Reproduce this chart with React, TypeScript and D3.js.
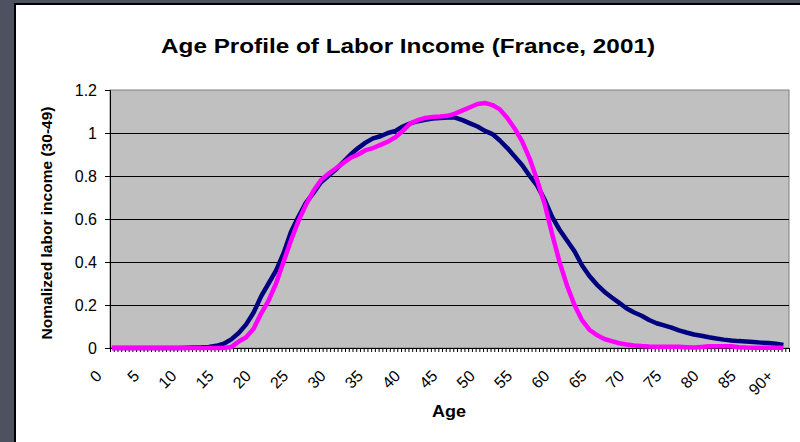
import * as d3 from "d3";
import { useEffect, useRef } from "react";

// ages 0..90 (90 = "90+")
const navyValues = [
  0, 0, 0, 0, 0, 0, 0, 0, 0, 0,
  0.001, 0.002, 0.003, 0.005, 0.01, 0.02, 0.04, 0.07, 0.11, 0.165,
  0.24, 0.3, 0.36, 0.44, 0.54, 0.61, 0.675, 0.72, 0.77, 0.8,
  0.83, 0.865, 0.9, 0.93, 0.955, 0.975, 0.985, 1.0, 1.01, 1.03,
  1.045, 1.055, 1.062, 1.067, 1.07, 1.072, 1.072, 1.06, 1.045, 1.03,
  1.01, 0.995, 0.965, 0.93, 0.89, 0.85, 0.8, 0.755, 0.69, 0.61,
  0.55, 0.5, 0.45, 0.385, 0.335, 0.295, 0.262, 0.235, 0.21, 0.184,
  0.165, 0.15, 0.13, 0.115, 0.105, 0.095, 0.082, 0.072, 0.063, 0.057,
  0.05, 0.044, 0.039, 0.035, 0.032, 0.03, 0.028, 0.025, 0.023, 0.02,
  0.014,
];

const pinkValues = [
  0, 0, 0, 0, 0, 0, 0, 0, 0, 0,
  0, 0, 0, 0, 0, 0, 0.005, 0.03, 0.05, 0.09,
  0.16, 0.22, 0.3, 0.4, 0.5, 0.59, 0.665, 0.73, 0.78, 0.81,
  0.835, 0.86, 0.885, 0.9, 0.92, 0.93, 0.945, 0.96, 0.98, 1.01,
  1.045, 1.06, 1.07, 1.075, 1.077, 1.08, 1.09, 1.105, 1.12, 1.135,
  1.14, 1.13, 1.11, 1.07, 1.02, 0.96, 0.88, 0.78, 0.67, 0.53,
  0.4, 0.29, 0.2, 0.13, 0.085, 0.06, 0.042, 0.032, 0.022, 0.016,
  0.012, 0.009, 0.007, 0.006, 0.006, 0.006, 0.006, 0.004, 0.002, 0.005,
  0.008, 0.008, 0.008, 0.008, 0.004, 0.002, 0.001, 0.001, 0.001, 0.001,
  0.001,
];

const xTickLabels = ["0", "5", "10", "15", "20", "25", "30", "35", "40", "45",
  "50", "55", "60", "65", "70", "75", "80", "85", "90+"];
const yTicks = [0, 0.2, 0.4, 0.6, 0.8, 1, 1.2];

const FONT = "'Liberation Sans', Arial, sans-serif";

function App() {
  const ref = useRef<SVGSVGElement>(null);

  useEffect(() => {
    const width = 800;
    const height = 442;
    const plot = { left: 110, right: 789, top: 90, bottom: 348 };

    const svg = d3.select(ref.current);
    svg.selectAll("*").remove();
    svg.attr("width", width).attr("height", height);

    // frame
    svg.append("rect").attr("width", width).attr("height", height).attr("fill", "#4e5160");
    svg.append("rect").attr("x", 15).attr("y", 4).attr("width", width).attr("height", height)
      .attr("fill", "#ffffff").attr("stroke", "#000").attr("stroke-width", 2);

    const ages = navyValues.map((_, i) => i);
    const xScale = d3.scaleLinear().domain([-0.25, 90.75]).range([plot.left, plot.right]);
    const yScale = d3.scaleLinear().domain([0, 1.2]).range([plot.bottom, plot.top]);

    // plot area
    svg.append("rect")
      .attr("x", plot.left).attr("y", plot.top)
      .attr("width", plot.right - plot.left).attr("height", plot.bottom - plot.top)
      .attr("fill", "#c0c0c0").attr("stroke", "#808080").attr("stroke-width", 1);

    // gridlines
    svg.append("g")
      .selectAll("line")
      .data(yTicks.filter((t) => t > 0 && t < 1.2))
      .enter()
      .append("line")
      .attr("x1", plot.left).attr("x2", plot.right)
      .attr("y1", (d) => Math.round(yScale(d)) + 0.5).attr("y2", (d) => Math.round(yScale(d)) + 0.5)
      .attr("stroke", "#000").attr("stroke-width", 1);

    const yAxis = d3.axisLeft(yScale).tickValues(yTicks)
      .tickSize(5).tickPadding(8)
      .tickFormat((d) => String(d));
    const yAxisG = svg.append("g").attr("transform", `translate(${plot.left},0)`);
    yAxisG.call(yAxis);
    yAxisG.select(".domain").attr("stroke", "#000");
    yAxisG.selectAll(".tick text")
      .attr("font-family", FONT).attr("font-size", 16).attr("fill", "#000");

    // x axis: tick marks every half category
    const xTickVals = d3.range(0, 183).map((i) => -0.25 + i * 0.5);
    const xAxis = d3.axisBottom(xScale).tickValues(xTickVals).tickSize(4).tickFormat(() => "");
    const xAxisG = svg.append("g").attr("transform", `translate(0,${plot.bottom})`);
    xAxisG.call(xAxis);
    xAxisG.select(".domain").attr("stroke", "#000");

    svg.append("g")
      .selectAll("text")
      .data(xTickLabels)
      .enter()
      .append("text")
      .text((d) => d)
      .attr("text-anchor", "end")
      .attr("font-family", FONT).attr("font-size", 16)
      .attr("transform", (d, i) => `translate(${xScale(i * 5) - 9},377) rotate(-45)`);

    // series
    const line = d3.line<number>()
      .x((d, i) => xScale(ages[i]))
      .y((d) => yScale(d));

    svg.append("path")
      .datum(navyValues)
      .attr("d", line)
      .attr("fill", "none").attr("stroke", "#000080").attr("stroke-width", 4.5)
      .attr("stroke-linejoin", "round");

    svg.append("path")
      .datum(pinkValues)
      .attr("d", line)
      .attr("fill", "none").attr("stroke", "#ff00ff").attr("stroke-width", 4.5)
      .attr("stroke-linejoin", "round");

    // titles
    svg.append("text")
      .text("Age Profile of Labor Income (France, 2001)")
      .attr("x", 408).attr("y", 53)
      .attr("text-anchor", "middle")
      .attr("textLength", 494).attr("lengthAdjust", "spacingAndGlyphs")
      .attr("font-family", FONT).attr("font-weight", "bold").attr("font-size", 20);

    svg.append("text")
      .text("Age")
      .attr("x", 449).attr("y", 417)
      .attr("text-anchor", "middle")
      .attr("textLength", 34).attr("lengthAdjust", "spacingAndGlyphs")
      .attr("font-family", FONT).attr("font-weight", "bold").attr("font-size", 17);

    svg.append("text")
      .text("Nomalized labor income (30-49)")
      .attr("text-anchor", "middle")
      .attr("transform", "translate(52,223) rotate(-90)")
      .attr("textLength", 233).attr("lengthAdjust", "spacingAndGlyphs")
      .attr("font-family", FONT).attr("font-weight", "bold").attr("font-size", 14);
  }, []);

  return (
    <svg ref={ref} style={{ position: "absolute", left: 0, top: 0, display: "block" }}></svg>
  );
}

export default App;
